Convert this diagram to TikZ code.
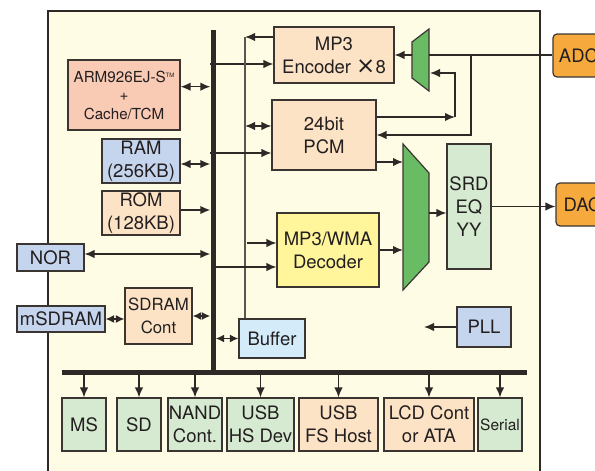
\documentclass[tikz,border=0pt]{standalone}
\usepackage{fontspec}
\usepackage{graphicx}
\setmainfont{TeX Gyre Heros}
\newfontfamily\symfont{DejaVu Sans}
\usetikzlibrary{arrows.meta,calc}
\definecolor{cream}{HTML}{FFFCE6}
\definecolor{salmon}{HTML}{F9CBB5}
\definecolor{lblue}{HTML}{C6D5EE}
\definecolor{peach}{HTML}{FDE3C6}
\definecolor{lyellow}{HTML}{FFF69C}
\definecolor{lgreen}{HTML}{D5EAD0}
\definecolor{mgreen}{HTML}{69BC63}
\definecolor{orng}{HTML}{F6AA3E}
\definecolor{sky}{HTML}{D4EBFA}
\definecolor{ln}{HTML}{2E2826}
\definecolor{boxline}{HTML}{3B3532}
\definecolor{txt}{HTML}{231F20}
\definecolor{bufln}{HTML}{5C5652}
\begin{document}
\begin{tikzpicture}[x=1pt,y=-1pt,
  blk/.style={draw=boxline, line width=1.2pt, inner sep=0pt, align=center, text=txt,
    font=\fontsize{18.5}{23}\selectfont},
  arr/.style={draw=ln, line width=1.4pt, -{Latex[length=10pt,width=8.5pt]}},
  darr/.style={draw=ln, line width=1.4pt, {Latex[length=10pt,width=8.5pt]}-{Latex[length=10pt,width=8.5pt]}},
  sdarr/.style={draw=ln, line width=1.4pt, {Latex[length=8.5pt,width=8pt]}-{Latex[length=8.5pt,width=8pt]}},
  plain/.style={draw=ln, line width=1.4pt},
  busbar/.style={fill=ln, draw=none, inner sep=0pt},
  mux/.style={fill=mgreen, draw=boxline, line width=1.2pt}]
\useasboundingbox (0,0) rectangle (595,471);
% chip
\filldraw[fill=cream, draw=ln, line width=2.4pt] (48,11) rectangle (540,495);
% buses
\node[busbar, minimum width=5pt, minimum height=344pt] (vbus) at (213,202) {};
\node[busbar, minimum width=465pt, minimum height=5pt] (hbus) at (294.5,372) {};
% left blocks
\node[blk, fill=salmon, minimum width=112pt, minimum height=70pt, font=\fontsize{15.2}{18.5}\selectfont] (ARM) at (124,95)
  {ARM926EJ-S\raisebox{5pt}{\fontsize{6}{6}\selectfont TM}\\+\\Cache/TCM};
\node[blk, fill=lblue, minimum width=78pt, minimum height=44pt] (RAM) at (141,161) {RAM\\(256KB)};
\node[blk, fill=peach, minimum width=78pt, minimum height=44pt] (ROM) at (141,213) {ROM\\(128KB)};
\node[blk, fill=lblue, minimum width=67pt, minimum height=27pt] (NOR) at (50.5,257.5) {NOR};
\node[blk, fill=lblue, minimum width=88pt, minimum height=26pt] (mSDRAM) at (61,319) {mSDRAM};
\node[blk, fill=peach, minimum width=67pt, minimum height=56pt, font=\fontsize{16.8}{23}\selectfont] (SDRAM) at (158.5,316) {SDRAM\\Cont};
% middle blocks
\node[blk, fill=peach, minimum width=120pt, minimum height=56pt] (Enc) at (334,55) {MP3\\Encoder {\symfont\fontsize{23}{23}\selectfont ×}8};
\node[blk, fill=peach, minimum width=104pt, minimum height=70pt] (PCM) at (324,135) {24bit\\PCM};
\node[blk, fill=lyellow, minimum width=102pt, minimum height=74pt] (Dec) at (328,250) {MP3/WMA\\Decoder};
\node[blk, fill=sky, minimum width=66pt, minimum height=39pt] (Buf) at (272,338.5) {Buffer};
\node[blk, fill=lgreen, minimum width=44pt, minimum height=125pt] (SRD) at (469,206.5) {SRD\\EQ\\YY};
\node[blk, fill=lblue, minimum width=54pt, minimum height=40pt] (PLL) at (484,327) {PLL};
\node[blk, fill=orng, rounded corners=4pt, minimum width=51pt, minimum height=43pt] (ADC) at (578.5,55.5) {ADC};
\node[blk, fill=orng, rounded corners=4pt, minimum width=53pt, minimum height=43pt] (DAC) at (582.5,204.5) {DAC};
% muxes
\draw[mux] (412,42) -- (429,29) -- (429,91) -- (412,78) -- cycle;
\draw[mux] (403,144) -- (429,173) -- (429,262) -- (403,290) -- cycle;
\coordinate (m1l) at (412,55);
\coordinate (m1r) at (429,55);
\coordinate (m1r2) at (430,73);
\coordinate (m2l) at (403,217);
\coordinate (m2r) at (429,213);
\coordinate (br) at (471,55);
\coordinate (fb) at (455,117);
\coordinate (bl) at (245,37);
\coordinate (pe) at (424,327);
% bottom blocks
\node[blk, fill=lgreen, minimum width=44pt, minimum height=53pt] (MS) at (84,424.5) {MS};
\node[blk, fill=lgreen, minimum width=44pt, minimum height=53pt] (SD) at (139,424.5) {SD};
\node[blk, fill=lgreen, minimum width=54pt, minimum height=53pt] (NAND) at (195,424.5) {NAND\\Cont.};
\node[blk, fill=lgreen, minimum width=67pt, minimum height=53pt] (USBHS) at (260.5,424.5) {USB\\HS Dev};
\node[blk, fill=peach, minimum width=79pt, minimum height=53pt] (USBFS) at (338.5,424.5) {USB\\FS Host};
\node[blk, fill=peach, minimum width=90pt, minimum height=53pt] (LCD) at (429,424.5) {LCD Cont\\or ATA};
\node[blk, fill=lgreen, minimum width=44pt, minimum height=53pt, font=\fontsize{15.5}{19}\selectfont] (Ser) at (500,424.5) {Serial};
% connectors: left side
\draw[darr] ([yshift=8.3pt]ARM.east) -- ([yshift=8.3pt]ARM.east -| vbus.west);
\draw[darr] ([yshift=-3pt]RAM.east) -- ([yshift=-3pt]RAM.east -| vbus.west);
\draw[arr] ([yshift=3pt]ROM.east) -- ([yshift=3pt]ROM.east -| vbus.west);
\draw[darr] ([yshift=3.5pt]NOR.east) -- ([yshift=3.5pt]NOR.east -| vbus.west);
\draw[sdarr] (mSDRAM.east) -- (mSDRAM.east -| SDRAM.west);
\draw[sdarr] (SDRAM.east) -- (SDRAM.east -| vbus.west);
\draw[sdarr] (Buf.west -| vbus.east) -- (Buf.west);
% connectors: middle
\draw[arr] ([yshift=-9pt]Enc.west -| vbus.west) -- ([yshift=-9pt]Enc.west);
\draw[arr] ([yshift=18pt]Enc.west) -- (bl);
\draw[draw=bufln, line width=1.4pt] (bl) -- (bl |- Buf.north);
\draw[darr] ([yshift=9pt]PCM.west -| bl) -- ([yshift=9pt]PCM.west);
\draw[arr] ([yshift=-18pt]PCM.west -| vbus.west) -- ([yshift=-18pt]PCM.west);
\draw[arr] ([yshift=7pt,xshift=2pt]Dec.west -| bl) -- ([yshift=7pt]Dec.west);
\draw[arr] ([yshift=-17pt]Dec.west -| vbus.east) -- ([yshift=-17pt]Dec.west);
% connectors: right side
\draw[arr] (m1l) -- (m1l -| Enc.east);
\draw[plain] (ADC.west |- m1r) -- (m1r);
\draw[arr] (br) |- (PCM.east);
\draw[arr] ([yshift=18pt]PCM.east) -- (fb);
\draw[arr] (fb) |- (m1r2);
\draw[arr] ([yshift=-27pt]PCM.east) -- ([yshift=-27pt]PCM.east -| m2l);
\draw[arr] (Dec.east) -- (Dec.east -| m2l);
\draw[arr] (m2r) -- (m2r -| SRD.west);
\draw[arr] (SRD.east) -- (SRD.east -| DAC.west);
\draw[arr] (PLL.west) -- (pe);
% bottom arrows
\foreach \b in {MS,SD,NAND,USBHS,USBFS,LCD,Ser}
  \draw[arr] (\b.north |- hbus.south) -- (\b.north);
\end{tikzpicture}
\end{document}
